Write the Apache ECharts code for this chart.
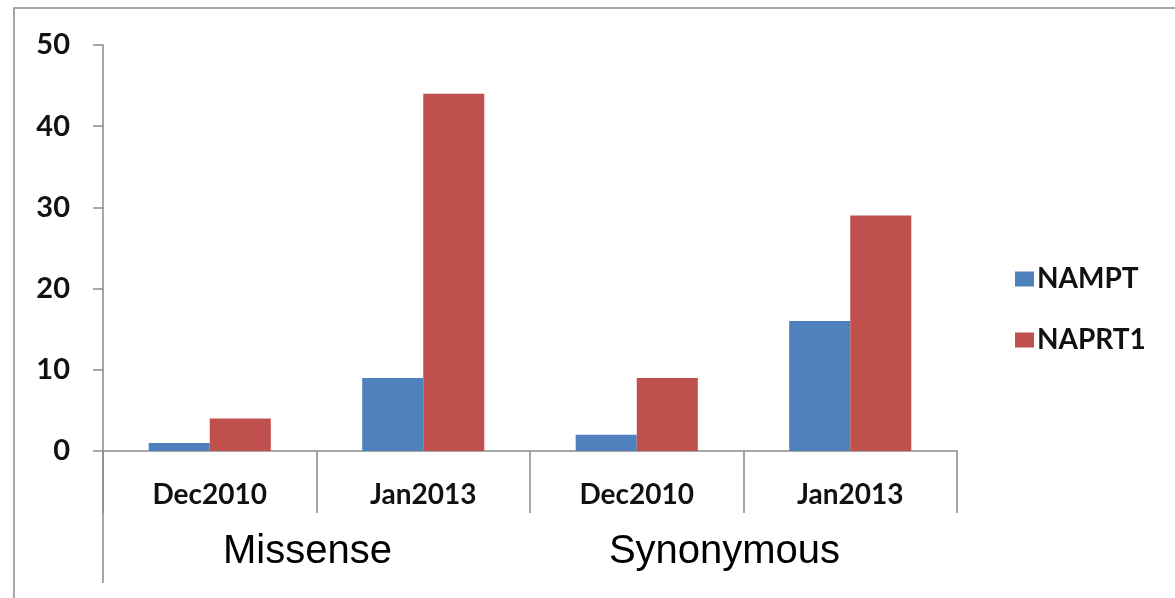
<!DOCTYPE html>
<html>
<head>
<meta charset="utf-8">
<script src="https://cdn.jsdelivr.net/npm/echarts@6/dist/echarts.min.js"></script>
<style>
html,body{margin:0;padding:0;background:#fff;}
#c{width:1175px;height:598px;}
</style>
</head>
<body>
<div id="c"></div>
<script>
var categories = ['Dec2010', 'Jan2013', 'Dec2010', 'Jan2013'];
var groups = ['Missense', 'Synonymous'];
var seriesNames = ['NAMPT', 'NAPRT1'];
var nampt = [1, 9, 2, 16];
var naprt1 = [4, 44, 9, 29];
var yTicks = [0, 10, 20, 30, 40, 50];

var chart = echarts.init(document.getElementById('c'), null, {renderer: 'canvas'});
var axisColor = '#8a8a8a';
var labelFont = 'Lato, "Open Sans", sans-serif';

chart.setOption({
  backgroundColor: '#ffffff',
  animation: false,
  grid: {left: 103, right: 218, top: 45, bottom: 147, containLabel: false, outerBoundsMode: 'none'},
  legend: {
    orient: 'vertical', left: 1010, top: 260,
    itemWidth: 19, itemHeight: 15, itemGap: 33,
    icon: 'rect',
    data: seriesNames,
    textStyle: {fontFamily: labelFont, fontWeight: 'bold', fontSize: 28, color: '#111', padding: [0,0,0,-2]}
  },
  xAxis: [{
    type: 'category', data: categories, boundaryGap: true,
    axisLine: {show: true, lineStyle: {color: axisColor, width: 1.5}},
    axisTick: {show: true, length: 62, lineStyle: {color: axisColor, width: 1.5}},
    axisLabel: {margin: 30, fontFamily: labelFont, fontWeight: 'bold', fontSize: 28, lineHeight: 28, color: '#111', interval: 0}
  }, {
    type: 'category', data: groups, position: 'bottom', offset: 0, gridIndex: 0,
    axisLine: {show: false}, axisTick: {show: false},
    axisLabel: {
      margin: 81, interval: 0, color: '#000',
      fontFamily: '"Liberation Sans", Arial, sans-serif', fontSize: 40, lineHeight: 40,
      formatter: function (v, i) { return i === 0 ? '{a|' + v + '}' : '{b|' + v + '}'; },
      rich: {
        a: {fontFamily: '"Liberation Sans", Arial, sans-serif', fontSize: 40, lineHeight: 40, color: '#000', padding: [0, 18, 0, 0]},
        b: {fontFamily: '"Liberation Sans", Arial, sans-serif', fontSize: 40, lineHeight: 40, color: '#000', padding: [0, 38, 0, 0]}
      }
    }
  }],
  yAxis: {
    type: 'value', min: yTicks[0], max: yTicks[yTicks.length - 1], interval: 10,
    axisLine: {show: true, lineStyle: {color: axisColor, width: 1.5}},
    axisTick: {show: true, length: 10, lineStyle: {color: axisColor, width: 1.5}},
    splitLine: {show: false},
    axisLabel: {margin: 33, fontFamily: labelFont, fontWeight: 'bold', fontSize: 29, color: '#111'}
  },
  series: [{
    name: seriesNames[0], type: 'bar', data: nampt, xAxisIndex: 0,
    barWidth: '28.6%', barGap: '0%',
    itemStyle: {color: '#4F81BD'}
  }, {
    name: seriesNames[1], type: 'bar', data: naprt1, xAxisIndex: 0,
    barWidth: '28.6%', barGap: '0%',
    itemStyle: {color: '#C0504D'}
  }]
});

// extend the leftmost category separator down past the group labels, plus chart frame
var p0 = chart.convertToPixel({xAxisIndex: 0, yAxisIndex: 0}, [0, 0]);
var gridLeft = 103;
chart.setOption({
  graphic: [{
    type: 'line', shape: {x1: gridLeft, y1: p0[1], x2: gridLeft, y2: p0[1] + 132},
    style: {stroke: axisColor, lineWidth: 1.5}, silent: true
  }, {
    type: 'rect', shape: {x: 14, y: 8, width: 1200, height: 700},
    style: {fill: null, stroke: '#a6a6a6', lineWidth: 2}, silent: true
  }]
});
</script>
</body>
</html>
